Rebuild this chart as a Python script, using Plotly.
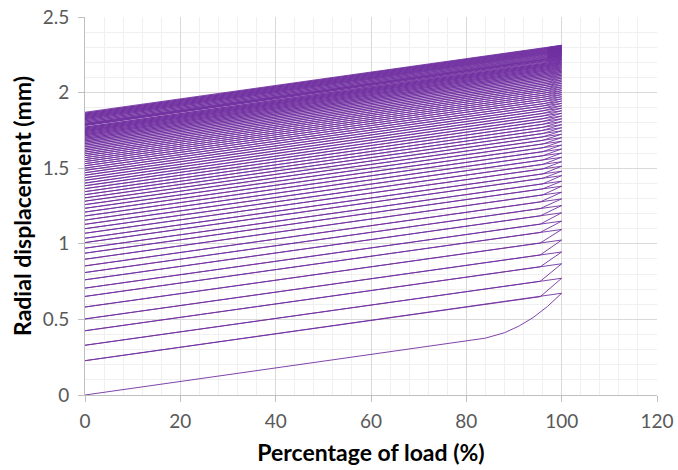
import plotly.graph_objects as go

# ---- data ----
# first loading cycle (0 -> 100 % load), mm
first_load_pct = [0, 80, 84, 88, 91, 94, 97, 100]
first_load_disp = [0.0, 0.354, 0.376, 0.412, 0.455, 0.512, 0.585, 0.673]

# displacement at 0 % load at the start of every following cycle (mm)
cycle_start = [0.227, 0.329, 0.425, 0.503, 0.582, 0.652, 0.707, 0.762, 0.810, 0.854,
               0.898, 0.938, 0.971, 1.008, 1.037, 1.070,
               1.100, 1.129, 1.157, 1.184, 1.210, 1.235, 1.259, 1.282, 1.304, 1.325,
               1.345, 1.365, 1.384, 1.402, 1.420, 1.437, 1.454, 1.470, 1.486, 1.501,
               1.516, 1.530, 1.544, 1.557, 1.570, 1.583, 1.595, 1.607, 1.619, 1.630,
               1.641, 1.652, 1.662, 1.672, 1.681, 1.690, 1.698, 1.706, 1.714, 1.721,
               1.728, 1.735, 1.742, 1.748, 1.754, 1.760, 1.766, 1.772, 1.777, 1.782,
               1.787, 1.792, 1.797, 1.801, 1.805, 1.809, 1.813, 1.817, 1.821, 1.825,
               1.828, 1.831, 1.834, 1.837, 1.840, 1.843, 1.846, 1.849, 1.852, 1.855,
               1.858, 1.861, 1.864, 1.867]
final_unloaded = 1.870

# load level (%) where each following cycle leaves the elastic line
yield_pct = [95.5] * 10 + [96.0] * 25 + [96.5] * 25 + [97.0] * 30

# elastic (unloading) stiffness: displacement change over 0-100 % load (mm)
elastic_range = 0.443

# ---- build the path ----
xs = list(first_load_pct)
ys = list(first_load_disp)
n = len(cycle_start)
for i in range(n):
    s = cycle_start[i]
    nxt = cycle_start[i + 1] if i + 1 < n else final_unloaded
    yp = yield_pct[min(i, len(yield_pct) - 1)]
    xs.append(0)                      # unloaded state
    ys.append(s)
    xs.append(yp)                     # elastic reload up to yield
    ys.append(s + elastic_range * yp / 100)
    xs.append(100)                    # plastic part up to full load
    ys.append(nxt + elastic_range)
xs.append(0)
ys.append(final_unloaded)

fig = go.Figure()
fig.add_trace(go.Scatter(x=xs, y=ys, mode="lines",
                         line=dict(color="#7030A0", width=0.9),
                         showlegend=False, hoverinfo="skip"))

tick_font = dict(family="Lato, Calibri, Carlito, sans-serif", size=19, color="#595959")
title_font = dict(family="Lato, Calibri, Carlito, sans-serif", size=23, color="#000000")

fig.update_layout(
    width=678, height=470,
    margin=dict(l=85, r=21, t=17, b=75),
    paper_bgcolor="white", plot_bgcolor="white",
    xaxis=dict(range=[0, 120], dtick=20, tick0=0, automargin=False,
               showgrid=True, gridcolor="#d9d9d9", gridwidth=1,
               minor=dict(dtick=4, showgrid=True, gridcolor="#f0f0f0", gridwidth=1),
               showline=True, linecolor="#bfbfbf", linewidth=1,
               ticks="outside", ticklen=6, tickcolor="#bfbfbf",
               ticklabelstandoff=3,
               zeroline=False, tickfont=tick_font,
               title=dict(text="<b>Percentage of load (%)</b>", font=title_font, standoff=14)),
    yaxis=dict(range=[0, 2.5], dtick=0.5, tick0=0, automargin=False,
               showgrid=True, gridcolor="#d9d9d9", gridwidth=1,
               minor=dict(dtick=0.1, showgrid=True, gridcolor="#f0f0f0", gridwidth=1),
               showline=True, linecolor="#bfbfbf", linewidth=1,
               ticks="outside", ticklen=6, tickcolor="#bfbfbf",
               ticklabelstandoff=5,
               zeroline=False, tickfont=tick_font,
               title=dict(text="<b>Radial displacement (mm)</b>", font=title_font, standoff=4)),
)

fig.write_html("out.html")
